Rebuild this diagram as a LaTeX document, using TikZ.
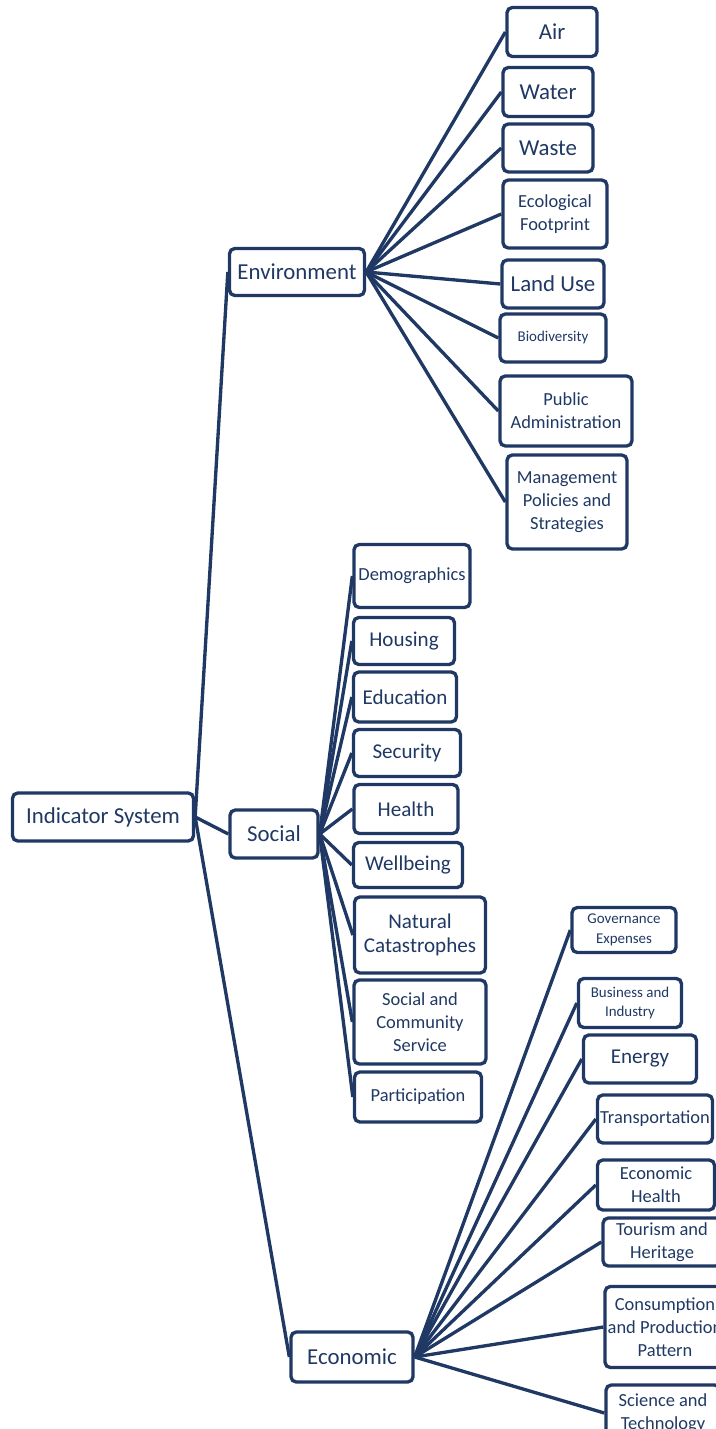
\documentclass[tikz,border=0pt]{standalone}
\usepackage{fontspec}
\setmainfont{Carlito}
\definecolor{navy}{HTML}{1F3864}

\begin{document}
\begin{tikzpicture}[x=0.02cm,y=-0.02cm,
    box/.style={draw=navy, line width=1.9pt, rounded corners=3pt, text=navy, align=center, inner sep=1pt},
    sz/.style 2 args={minimum width=#1*0.02cm, minimum height=#2*0.02cm},
    fbig/.style={font=\fontsize{13}{15}\selectfont},
    fmid/.style={font=\fontsize{12}{14}\selectfont},
    fsmall/.style={font=\fontsize{10.5}{13}\selectfont},
    ftiny/.style={font=\fontsize{8.5}{11}\selectfont},
    link/.style={navy, line width=1.9pt}]
    \useasboundingbox (0,0) rectangle (716,1429);
    \clip (0,0) rectangle (716,1429);
    % Raiz e ramos
    \node[box,fbig,sz={181}{48}] (ind) at (103,817) {Indicator System};
    \node[box,fbig,sz={135}{47}] (env) at (297,272) {Environment};
    \node[box,fbig,sz={88}{48}] (soc) at (274,834) {Social};
    \node[box,fbig,sz={122}{50}] (eco) at (352,1357) {Economic};
    % Ambiente
    \node[box,fbig,sz={90}{49}] (air) at (552,32) {Air};
    \node[box,fbig,sz={90}{49}] (water) at (548,92) {Water};
    \node[box,fbig,sz={90}{48}] (waste) at (548,148) {Waste};
    \node[box,fsmall,sz={104}{68}] (foot) at (555,214) {Ecological\\Footprint};
    \node[box,fbig,sz={102}{48}] (land) at (553,284) {Land Use};
    \node[box,ftiny,sz={106}{48}] (bio) at (553,338) {Biodiversity};
    \node[box,fsmall,sz={132}{70}] (pub) at (566,411) {Public\\Administration};
    \node[box,fsmall,sz={120}{94}] (mgmt) at (567,502) {Management\\Policies and\\Strategies};
    % Social
    \node[box,fsmall,sz={116}{63}] (demo) at (412,576) {Demographics};
    \node[box,fmid,sz={101}{47}] (hous) at (404,641) {Housing};
    \node[box,fmid,sz={103}{50}] (edu) at (405,697) {Education};
    \node[box,fmid,sz={107}{47}] (sec) at (407,753) {Security};
    \node[box,fmid,sz={104}{49}] (hlth) at (406,809) {Health};
    \node[box,fmid,sz={109}{45}] (well) at (408,865) {Wellbeing};
    \node[box,fmid,sz={131}{76}] (cat) at (420,935) {Natural\\Catastrophes};
    \node[box,fsmall,sz={132}{84}] (serv) at (420,1022) {Social and\\Community\\Service};
    \node[box,fsmall,sz={127}{50}] (part) at (418,1097) {Participation};
    % Economico
    \node[box,ftiny,sz={104}{45}] (gov) at (624,930) {Governance\\Expenses};
    \node[box,ftiny,sz={103}{49}] (bus) at (630,1003) {Business and\\Industry};
    \node[box,fmid,sz={113}{48}] (nrg) at (640,1059) {Energy};
    \node[box,fsmall,sz={115}{48}] (trans) at (655,1119) {Transportation};
    \node[box,fsmall,sz={117}{50}] (ehlth) at (656,1185) {Economic\\Health};
    \node[box,fsmall,sz={118}{48}] (tour) at (662,1242) {Tourism and\\Heritage};
    \node[box,fsmall,sz={120}{81}] (cons) at (665,1327) {Consumption\\and Production\\Pattern};
    \node[box,fsmall,sz={114}{56}] (sci) at (663,1413) {Science and\\Technology};
    % Ligacoes
    \foreach \c in {env,soc,eco}
        \draw[link] (ind.east) -- (\c.west);
    \foreach \c in {air,water,waste,foot,land,bio,pub,mgmt}
        \draw[link] (env.east) -- (\c.west);
    \foreach \c in {demo,hous,edu,sec,hlth,well,cat,serv,part}
        \draw[link] (soc.east) -- (\c.west);
    \foreach \c in {gov,bus,nrg,trans,ehlth,tour,cons,sci}
        \draw[link] (eco.east) -- (\c.west);
\end{tikzpicture}
\end{document}
